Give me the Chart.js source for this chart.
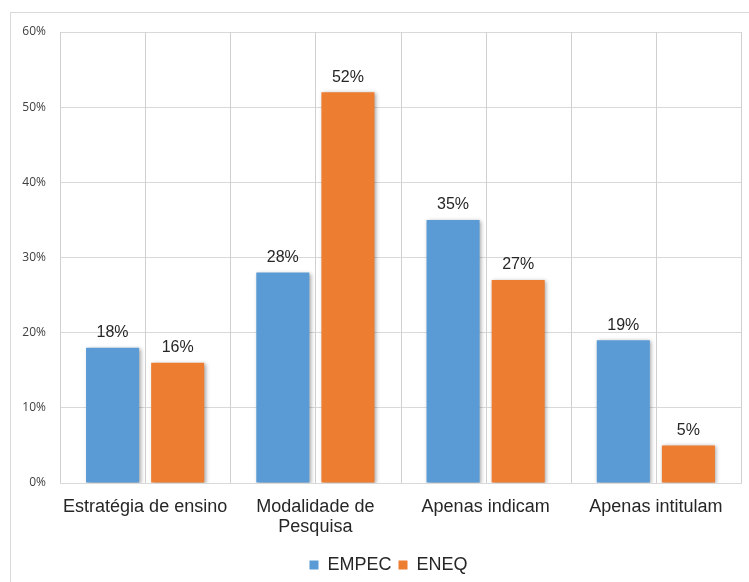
<!DOCTYPE html>
<html>
<head>
<meta charset="utf-8">
<script src="https://cdn.jsdelivr.net/npm/chart.js@4/dist/chart.umd.min.js"></script>
<style>
  html, body { margin: 0; padding: 0; background: #ffffff; }
  #wrap { position: relative; width: 749px; height: 582px; }
  #frame { position: absolute; left: 10px; top: 12px; width: 760px; height: 600px;
           border: 1px solid #d9d9d9; box-sizing: border-box; pointer-events: none; }
  canvas { position: absolute; left: 0; top: 0; }
</style>
</head>
<body>
<div id="wrap">
  <canvas id="chart" width="749" height="582"></canvas>
  <div id="frame"></div>
</div>
<script>
// Categories and series (percent)
const categories = ["Estratégia de ensino", ["Modalidade de", "Pesquisa"], "Apenas indicam", "Apenas intitulam"];
const seriesNames = ["EMPEC", "ENEQ"];
const empecValues = [18, 28, 35, 19];
const eneqValues = [16, 52, 27, 5];
const yTicks = [0, 10, 20, 30, 40, 50, 60];

const FONT = "'Liberation Sans', Arial, sans-serif";
const GRID = "#d9d9d9";

// Vertical grid lines at every category edge and every category centre
const verticalGrid = {
  id: "verticalGrid",
  beforeDatasetsDraw(chart) {
    const { ctx, chartArea: a, scales: { x } } = chart;
    const n = x.ticks.length;
    const half = (x.getPixelForValue(1) - x.getPixelForValue(0)) / 2;
    ctx.save();
    ctx.strokeStyle = "#d0d0d0";
    ctx.lineWidth = 1;
    for (let i = 0; i < n; i++) {
      const c = x.getPixelForValue(i);
      [c - half, c, c + half].forEach(px => {
        const xx = Math.round(px) + 0.5;
        ctx.beginPath();
        ctx.moveTo(xx, a.top);
        ctx.lineTo(xx, a.bottom);
        ctx.stroke();
      });
    }
    ctx.restore();
  }
};

// Soft drop shadow under the bars
const barShadow = {
  id: "barShadow",
  beforeDatasetDraw(chart) {
    const ctx = chart.ctx;
    ctx.save();
    ctx.shadowColor = "rgba(0,0,0,0.35)";
    ctx.shadowBlur = 4;
    ctx.shadowOffsetX = 1.5;
    ctx.shadowOffsetY = 1;
  },
  afterDatasetDraw(chart) {
    chart.ctx.restore();
  }
};

// Value labels above each bar
const valueLabels = {
  id: "valueLabels",
  afterDatasetsDraw(chart) {
    const ctx = chart.ctx;
    ctx.save();
    ctx.font = "16px " + FONT;
    ctx.fillStyle = "#262626";
    ctx.textAlign = "center";
    ctx.textBaseline = "bottom";
    chart.data.datasets.forEach((ds, di) => {
      chart.getDatasetMeta(di).data.forEach((bar, i) => {
        ctx.fillText(ds.data[i] + "%", bar.x, bar.y - 7);
      });
    });
    ctx.restore();
  }
};

// Nudge the legend a little right of and below its default spot
const legendShift = {
  id: "legendShift",
  afterLayout(chart) {
    const lg = chart.legend;
    if (lg) { lg.left += 13; lg.right += 13; lg.top += 2; lg.bottom += 2; }
  }
};

new Chart(document.getElementById("chart"), {
  type: "bar",
  data: {
    labels: categories,
    datasets: [
      { label: seriesNames[0], data: empecValues, backgroundColor: "#5B9BD5",
        categoryPercentage: 0.765, barPercentage: 0.815 },
      { label: seriesNames[1], data: eneqValues, backgroundColor: "#ED7D31",
        categoryPercentage: 0.765, barPercentage: 0.815 }
    ]
  },
  options: {
    responsive: false,
    animation: false,
    devicePixelRatio: 1,
    layout: { padding: { left: 10, top: 32, right: 8, bottom: 0 } },
    plugins: {
      tooltip: { enabled: false },
      legend: {
        position: "bottom",
        labels: {
          font: { family: FONT, size: 18 },
          color: "#262626",
          boxWidth: 9,
          boxHeight: 9,
          padding: 7
        }
      }
    },
    scales: {
      x: {
        grid: { display: false },
        border: { display: true, color: GRID },
        ticks: {
          font: { family: FONT, size: 18, lineHeight: 1.1 },
          color: "#262626",
          padding: 6,
          maxRotation: 0,
          autoSkip: false
        },
        afterFit(s) { s.height = 64; }
      },
      y: {
        min: 0,
        max: 60,
        afterBuildTicks(s) { s.ticks = yTicks.map(v => ({ value: v })); },
        grid: { color: GRID, drawTicks: false },
        border: { display: false },
        ticks: {
          font: { family: "'Open Sans', sans-serif", size: 12 },
          color: "#404040",
          padding: 14,
          callback: v => v + "%"
        },
        afterFit(s) { s.width = 50; }
      }
    }
  },
  plugins: [verticalGrid, barShadow, valueLabels, legendShift]
});
</script>
</body>
</html>
